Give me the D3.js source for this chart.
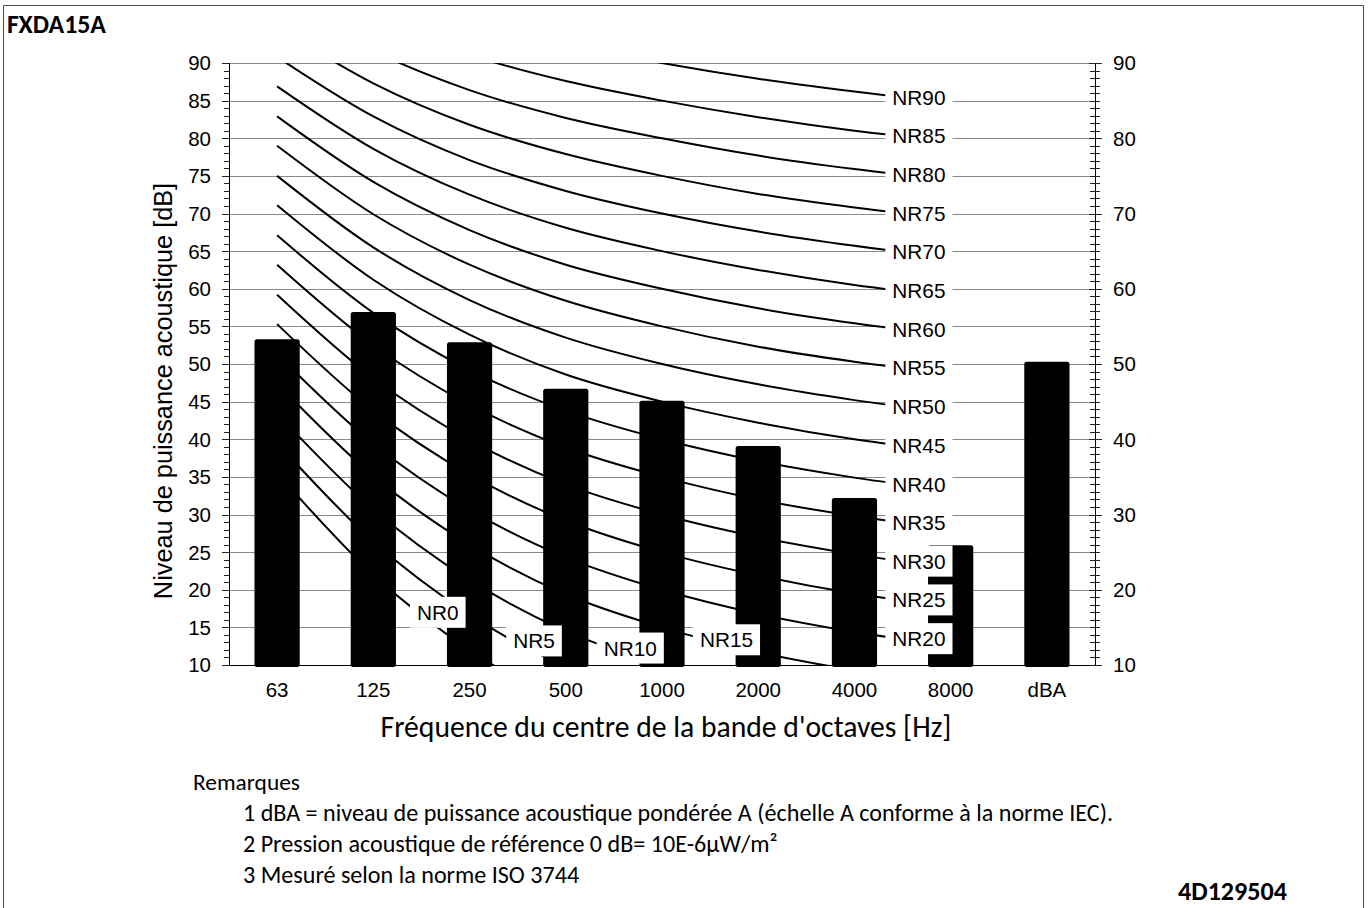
<!DOCTYPE html>
<html>
<head>
<meta charset="utf-8">
<script src="https://cdn.jsdelivr.net/npm/d3@7/dist/d3.min.js"></script>
<style>
  html, body { margin: 0; padding: 0; background: #fff; }
  svg { display: block; }
</style>
</head>
<body>
<svg id="chart" width="1371" height="908"></svg>
<script>
// Octave bands on the x axis (last one is the A-weighted total)
const bands = ["63", "125", "250", "500", "1000", "2000", "4000", "8000", "dBA"];
// Sound power level of the unit per band [dB]
const soundPower = [53.3, 56.9, 52.9, 46.7, 45.1, 39.1, 32.2, 25.9, 50.3];

// NR (noise rating) reference curves, levels per octave band 63 ... 8000 Hz
const nrBands = ["63", "125", "250", "500", "1000", "2000", "4000", "8000"];
const nrNames = ["NR0", "NR5", "NR10", "NR15", "NR20", "NR25", "NR30", "NR35", "NR40",
                 "NR45", "NR50", "NR55", "NR60", "NR65", "NR70", "NR75", "NR80", "NR85", "NR90"];
const nrLevels = [
  [35.5, 22.0, 12.0, 4.8, 0.0, -3.5, -6.1, -8.0],
  [39.5, 26.4, 16.7, 9.7, 5.0, 1.6, -1.0, -2.9],
  [43.4, 30.7, 21.3, 14.5, 10.0, 6.7, 4.2, 2.3],
  [47.4, 35.1, 26.0, 19.4, 15.0, 11.7, 9.3, 7.5],
  [51.3, 39.4, 30.6, 24.3, 20.0, 16.8, 14.4, 12.6],
  [55.3, 43.8, 35.3, 29.2, 25.0, 21.9, 19.5, 17.8],
  [59.2, 48.1, 39.9, 34.0, 30.0, 27.0, 24.7, 22.9],
  [63.2, 52.5, 44.6, 38.9, 35.0, 32.0, 29.8, 28.1],
  [67.1, 56.8, 49.2, 43.8, 40.0, 37.1, 34.9, 33.2],
  [71.1, 61.2, 53.9, 48.6, 45.0, 42.2, 40.0, 38.4],
  [75.0, 65.5, 58.5, 53.5, 50.0, 47.3, 45.2, 43.5],
  [79.0, 69.9, 63.2, 58.4, 55.0, 52.3, 50.3, 48.7],
  [82.9, 74.2, 67.8, 63.2, 60.0, 57.4, 55.4, 53.8],
  [86.9, 78.6, 72.5, 68.1, 65.0, 62.5, 60.5, 59.0],
  [90.8, 82.9, 77.1, 73.0, 70.0, 67.6, 65.7, 64.1],
  [94.8, 87.3, 81.8, 77.9, 75.0, 72.6, 70.8, 69.3],
  [98.7, 91.6, 86.4, 82.7, 80.0, 77.7, 75.9, 74.4],
  [102.7, 96.0, 91.1, 87.6, 85.0, 82.8, 81.0, 79.6],
  [106.6, 100.3, 95.7, 92.5, 90.0, 87.9, 86.2, 84.7]
];

// Axis tick labels
const leftTicks = [10, 15, 20, 25, 30, 35, 40, 45, 50, 55, 60, 65, 70, 75, 80, 85, 90];
const rightTicks = [10, 20, 30, 40, 50, 60, 70, 80, 90];

// Texts
const modelName = "FXDA15A";
const docCode = "4D129504";
const yTitle = "Niveau de puissance acoustique [dB]";
const xTitle = "Fréquence du centre de la bande d'octaves [Hz]";
const notesTitle = "Remarques";
const notes = [
  "1 dBA = niveau de puissance acoustique pondérée A (échelle A conforme à la norme IEC).",
  "2 Pression acoustique de référence 0 dB= 10E-6µW/m²",
  "3 Mesuré selon la norme ISO 3744"
];

// ---------------------------------------------------------------------------
const ARIAL = "'Liberation Sans', Arial, sans-serif";
const CALIBRI = "Carlito, Lato, 'Open Sans', sans-serif";

const svg = d3.select("#chart");
const plot = { left: 229, right: 1095, top: 63, bottom: 665 };

const x = d3.scaleBand().domain(bands)
  .range([plot.left, plot.right]).paddingInner(0.53).paddingOuter(0.265);
const cx = b => x(b) + x.bandwidth() / 2;
const y = d3.scaleLinear().domain([10, 90]).range([plot.bottom, plot.top]);
const crisp = v => Math.round(v) + 0.5;

// Scale a text's font size so that it spans a given width
function fitWidth(sel, target) {
  const w = sel.node().getComputedTextLength();
  const fs = parseFloat(sel.attr("font-size"));
  sel.attr("font-size", (fs * target / w).toFixed(2));
  return fs * target / w;
}

// Outer frame
svg.append("path")
  .attr("d", `M3.5,${912} V5.5 H1363.5 V${912}`)
  .attr("fill", "none").attr("stroke", "#4a4a4a").attr("stroke-width", 1);

// Title and document code
const title = svg.append("text").text(modelName)
  .attr("x", 7).attr("y", 33).attr("font-family", CALIBRI)
  .attr("font-weight", "bold").attr("font-size", 20).attr("fill", "#000");
fitWidth(title, 99);

const code = svg.append("text").text(docCode)
  .attr("x", 1178).attr("y", 900).attr("font-family", CALIBRI)
  .attr("font-weight", "bold").attr("font-size", 20).attr("fill", "#000");
fitWidth(code, 109);

// Horizontal gridlines
svg.append("g").selectAll("line").data(leftTicks.filter(v => v > 10)).join("line")
  .attr("x1", plot.left).attr("x2", plot.right)
  .attr("y1", d => crisp(y(d))).attr("y2", d => crisp(y(d)))
  .attr("stroke", "#8a8a8a").attr("stroke-width", 1);

// Clip for the NR curves
svg.append("clipPath").attr("id", "plotClip").append("rect")
  .attr("x", plot.left).attr("y", plot.top)
  .attr("width", plot.right - plot.left).attr("height", plot.bottom - plot.top);

const nrLine = d3.line()
  .x((d, i) => cx(nrBands[i]))
  .y(d => y(d))
  .curve(d3.curveCatmullRom.alpha(0));

svg.append("g").attr("clip-path", "url(#plotClip)")
  .selectAll("path").data(nrLevels).join("path")
  .attr("d", d => nrLine(d))
  .attr("fill", "none").attr("stroke", "#000").attr("stroke-width", 2);

// Sound power bars
svg.append("g").selectAll("rect").data(soundPower).join("rect")
  .attr("x", (d, i) => x(bands[i]))
  .attr("width", x.bandwidth())
  .attr("y", d => y(d))
  .attr("height", d => plot.bottom - y(d) + 2)
  .attr("rx", 2.5)
  .attr("fill", "#000");

// Axis lines
const axes = svg.append("g").attr("stroke", "#000").attr("stroke-width", 1);
axes.append("line").attr("x1", crisp(plot.left)).attr("x2", crisp(plot.left))
  .attr("y1", plot.top).attr("y2", plot.bottom + 1);
axes.append("line").attr("x1", crisp(plot.right)).attr("x2", crisp(plot.right))
  .attr("y1", plot.top).attr("y2", plot.bottom + 1);
axes.append("line").attr("x1", plot.left).attr("x2", plot.right + 1)
  .attr("y1", crisp(plot.bottom)).attr("y2", crisp(plot.bottom));

// Minor / major ticks on both value axes
const unitTicks = d3.range(10, 91, 1);
const tickG = svg.append("g").attr("stroke", "#222").attr("stroke-width", 1);
tickG.selectAll(".lt").data(unitTicks).join("line")
  .attr("x1", d => d % 5 === 0 ? plot.left - 7 : plot.left - 5)
  .attr("x2", plot.left)
  .attr("y1", d => crisp(y(d))).attr("y2", d => crisp(y(d)));
tickG.selectAll(".rt").data(unitTicks).join("line")
  .attr("x1", d => d % 10 === 0 ? plot.right - 6 : plot.right - 5)
  .attr("x2", d => d % 10 === 0 ? plot.right + 7 : plot.right + 5)
  .attr("y1", d => crisp(y(d))).attr("y2", d => crisp(y(d)));

// Tick labels
const tickFont = { "font-family": ARIAL, "font-size": 20.5, "fill": "#000" };
const applyFont = (sel, f) => { Object.entries(f).forEach(([k, v]) => sel.attr(k, v)); return sel; };

applyFont(svg.append("g").selectAll("text").data(leftTicks).join("text")
  .attr("x", 211).attr("y", d => y(d)).attr("dy", "0.36em")
  .attr("text-anchor", "end").text(d => d), tickFont);

applyFont(svg.append("g").selectAll("text").data(rightTicks).join("text")
  .attr("x", 1113).attr("y", d => y(d)).attr("dy", "0.36em")
  .attr("text-anchor", "start").text(d => d), tickFont);

applyFont(svg.append("g").selectAll("text").data(bands).join("text")
  .attr("x", d => cx(d)).attr("y", 697)
  .attr("text-anchor", "middle").text(d => d), tickFont);

// NR curve labels: placed beside the last band that still reaches 10 dB,
// vertically at the middle of the segment leading to it
const labelG = svg.append("g");
nrLevels.forEach((lv, k) => {
  let idx = 0;
  lv.forEach((v, i) => { if (Math.round(v) >= 10) idx = i; });
  const mid = (lv[idx - 1] + lv[idx]) / 2;
  const tx = cx(nrBands[idx]) - 0.33 * x.step();
  const ty = y(mid);
  const g = labelG.append("g");
  const bg = g.append("rect").attr("fill", "#fff");
  const t = g.append("text").text(nrNames[k])
    .attr("x", tx).attr("y", ty).attr("dy", "0.36em")
    .attr("text-anchor", "middle")
    .attr("font-family", ARIAL).attr("font-size", 20.8).attr("fill", "#000");
  const w = t.node().getComputedTextLength();
  bg.attr("x", tx - w / 2 - 7).attr("width", w + 14)
    .attr("y", ty - 15.5).attr("height", 31);
});

// Axis titles
svg.append("text").text(yTitle)
  .attr("transform", `translate(172, 391) rotate(-90)`)
  .attr("text-anchor", "middle")
  .attr("font-family", ARIAL).attr("font-size", 25.3).attr("fill", "#000");

const xt = svg.append("text").text(xTitle)
  .attr("x", (plot.left + plot.right) / 2 + 4).attr("y", 737)
  .attr("text-anchor", "middle")
  .attr("font-family", CALIBRI).attr("font-size", 24).attr("fill", "#000");
fitWidth(xt, 571);

// Notes
const nt = svg.append("text").text(notesTitle)
  .attr("x", 193).attr("y", 790)
  .attr("font-family", CALIBRI).attr("font-size", 20).attr("fill", "#000");
fitWidth(nt, 107);

const noteSel = svg.append("g").selectAll("text").data(notes).join("text")
  .attr("x", 243).attr("y", (d, i) => 821 + i * 31)
  .attr("font-family", CALIBRI).attr("font-size", 20).attr("fill", "#000")
  .text(d => d);
const first = d3.select(noteSel.nodes()[0]);
const fs = fitWidth(first, 1113 - 243);
noteSel.attr("font-size", fs.toFixed(2));
</script>
</body>
</html>
